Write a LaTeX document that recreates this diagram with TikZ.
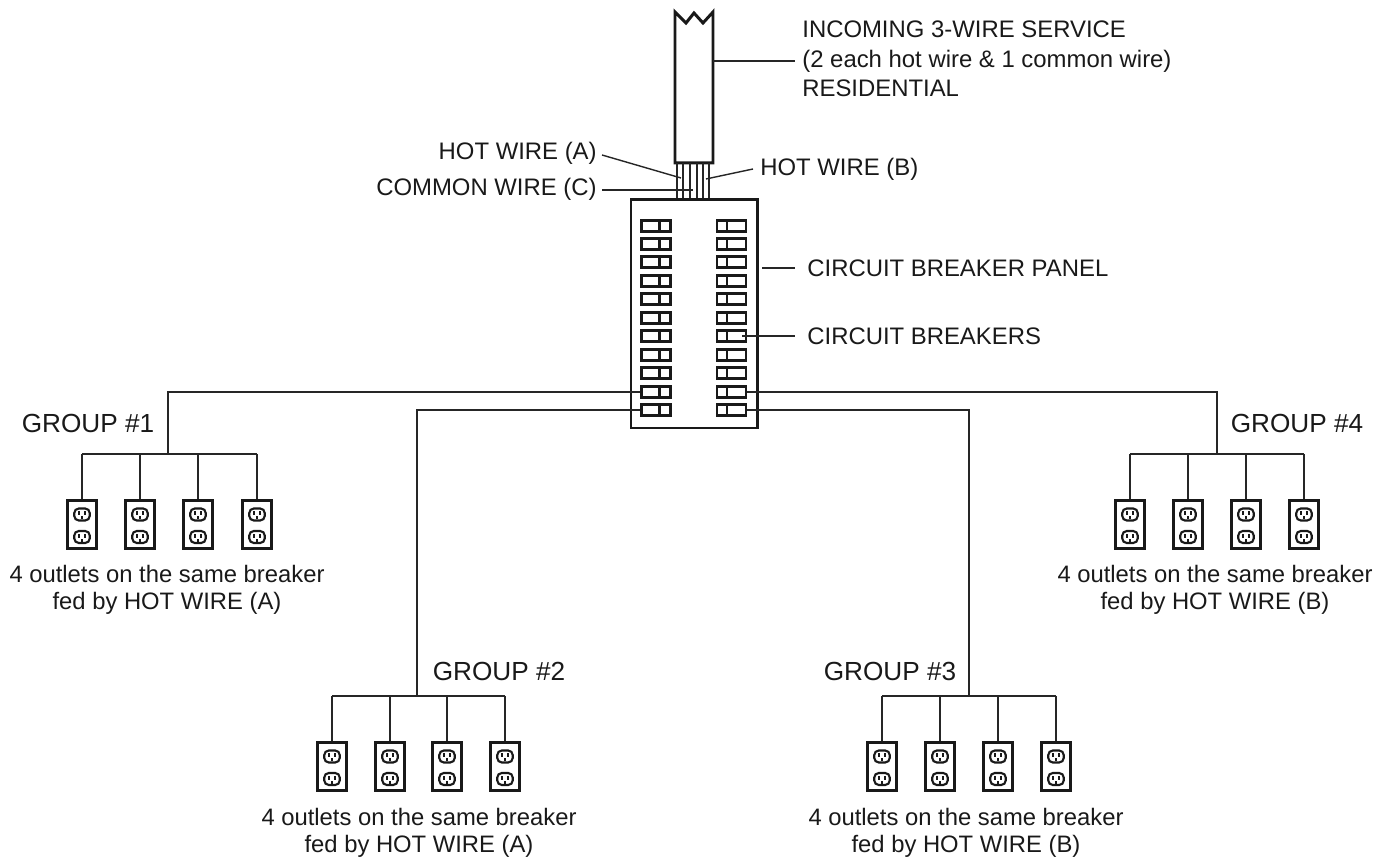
\documentclass[tikz,border=0pt]{standalone}
\usepackage{fontspec}
\setmainfont{Liberation Sans}
\begin{document}
\begin{tikzpicture}[
      x=0.02cm,y=-0.02cm,
      heavy/.style={draw=black!90,line width=1.7pt},
      wire/.style={draw=black!85,line width=0.8pt},
      lab/.style={inner sep=0pt,font=\fontsize{13.6}{16.8}\selectfont,text=black!90},
      grouplab/.style={lab,font=\fontsize{14.9}{16.8}\selectfont},
      captext/.style={lab,align=center,font=\fontsize{13.55}{15.4}\selectfont},
      panelbox/.style={heavy,minimum width=126*0.02cm,minimum height=228*0.02cm,inner sep=0pt},
      breaker/.style={heavy,line width=1.5pt,minimum width=29*0.02cm,minimum height=11*0.02cm,inner sep=0pt},
      plate/.style={heavy,line width=1.6pt,minimum width=29*0.02cm,minimum height=48*0.02cm,inner sep=0pt},
      socket/.style={draw=black!90,line width=1.2pt,rounded corners=2.6pt,minimum width=15.5*0.02cm,minimum height=12*0.02cm,inner sep=0pt},
      face/.pic={
        \node[socket] (-s) at (0,0) {};
        \fill[black!90] (-3.6,-3) rectangle (-1.8,1);
        \fill[black!90] (1.8,-3) rectangle (3.6,1);
        \fill[black!90] (-1.2,2) rectangle (1.2,5);
      }
    ]
    \useasboundingbox (0,0) rectangle (1387,857);
    % Incoming cable
    \draw[heavy,fill=white,line join=miter] (675,12) -- (686,23) -- (694,13) -- (703,23) -- (713,12)
       -- (713,163) -- (675,163) -- cycle;
    \coordinate (cableR) at (713,61);
    % Three wires in the cable end
    \foreach \x in {677,683,690,697,703,709}
      \draw[wire,line width=1.1pt] (\x,163) -- (\x,200);
    % Panel
    \node[panelbox] (panel) at (694,314) {};
    % Breakers
    \foreach \i/\y in {1/226,2/244,3/262,4/281,5/299,6/318,7/336,8/355,9/373,10/392,11/410} {
      \node[breaker] (bl\i) at (656,\y) {};
      \node[breaker] (br\i) at (731.5,\y) {};
      \draw[heavy,line width=1.5pt] (659.5,\y-5.5) -- (659.5,\y+5.5);
      \draw[heavy,line width=1.5pt] (727,\y-5.5) -- (727,\y+5.5);
    }
    % Labels, top
    \node[lab,anchor=west,align=left] (service) at (802,59) {INCOMING 3-WIRE SERVICE\\(2 each hot wire \& 1 common wire)\\RESIDENTIAL};
    \node[lab,anchor=east] (hotA) at (597,153.5) {HOT WIRE (A)};
    \node[lab,anchor=east] (common) at (597,189) {COMMON WIRE (C)};
    \node[lab,anchor=west] (hotB) at (760,169) {HOT WIRE (B)};
    \node[lab,anchor=west] (panellab) at (807,268) {CIRCUIT BREAKER PANEL};
    \node[lab,anchor=west] (breakerlab) at (807,336) {CIRCUIT BREAKERS};
    \coordinate (hotAend) at (681,178);
    \coordinate (commonend) at (693,190);
    \coordinate (hotBend) at (706,179);
    \coordinate (panelend) at (762,268);
    \coordinate (breakerend) at (742,336);
    % Leaders
    \draw[wire] (cableR) -- (795,61);
    \draw[wire] (602,155) -- (hotAend);
    \draw[wire] (602,190) -- (commonend);
    \draw[wire] (753,169) -- (hotBend);
    \draw[wire] (panelend) -- (795,268);
    \draw[wire] (breakerend) -- (795,336);
    % Four groups of outlets
    \foreach \g/\xa/\xb/\xc/\xd/\ytop in {1/82/140/198/257/500,2/332/390/447/505/742,3/882/940/998/1056/742,4/1130/1188/1246/1304/500} {
      \coordinate (bus\g) at (\xa,\ytop-46);
      \coordinate (busend\g) at (\xd,\ytop-46);
      \draw[wire] (bus\g) -- (busend\g);
      \foreach \o/\x in {1/\xa,2/\xb,3/\xc,4/\xd} {
        \node[plate] (g\g o\o) at (\x,\ytop+24.5) {};
        \draw[wire] (\x,\ytop-46) -- (g\g o\o.north);
        \pic at (\x,\ytop+14.5) {face};
        \pic at (\x,\ytop+37) {face};
      }
    }
    % Feeders
    \coordinate (j1) at (168,454);
    \coordinate (j2) at (417,697);
    \coordinate (j3) at (969,697);
    \coordinate (j4) at (1217,454);
    \draw[wire] (bl10.west) -| (j1);
    \draw[wire] (bl11.west) -| (j2);
    \draw[wire] (br11.east) -| (j3);
    \draw[wire] (br10.east) -| (j4);
    % Group labels
    \node[grouplab] (g1) at (88,423.5) {GROUP \#1};
    \node[grouplab] (g2) at (499,671.5) {GROUP \#2};
    \node[grouplab] (g3) at (890,671.5) {GROUP \#3};
    \node[grouplab] (g4) at (1297,423.5) {GROUP \#4};
    \node[captext] (c1) at (167,589.5) {4 outlets on the same breaker\\fed by HOT WIRE (A)};
    \node[captext] (c2) at (419,832.5) {4 outlets on the same breaker\\fed by HOT WIRE (A)};
    \node[captext] (c3) at (966,832.5) {4 outlets on the same breaker\\fed by HOT WIRE (B)};
    \node[captext] (c4) at (1215,589.5) {4 outlets on the same breaker\\fed by HOT WIRE (B)};
  \end{tikzpicture}
\end{document}
